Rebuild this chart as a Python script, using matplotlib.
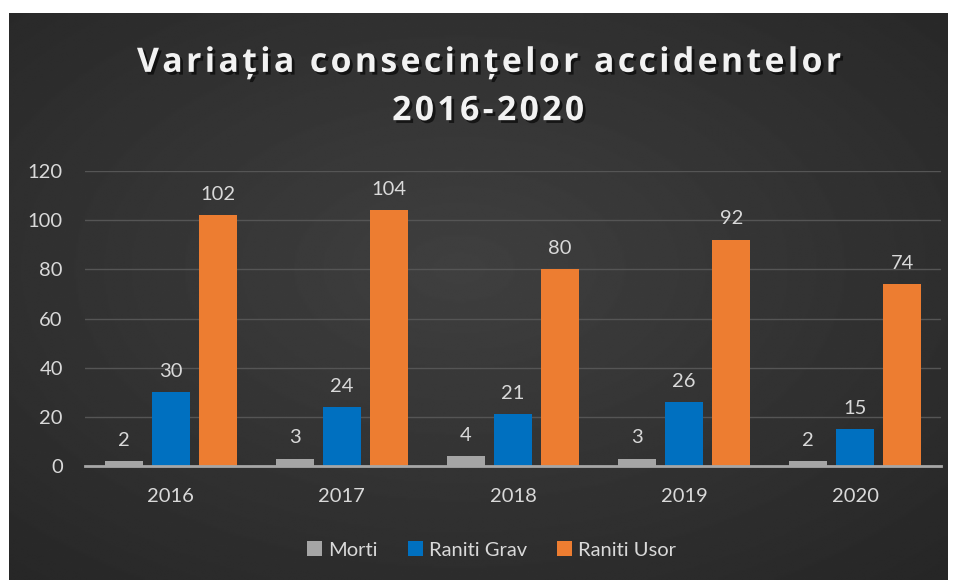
import numpy as np
import matplotlib.pyplot as plt
import matplotlib.patheffects as pe

years = ['2016', '2017', '2018', '2019', '2020']
morti = [2, 3, 4, 3, 2]
raniti_grav = [30, 24, 21, 26, 15]
raniti_usor = [102, 104, 80, 92, 74]

series = [('Morti', morti, '#A5A5A5'),
          ('Raniti Grav', raniti_grav, '#0070C0'),
          ('Raniti Usor', raniti_usor, '#ED7D31')]

txt = '#D9D9D9'
plt.rcParams['font.family'] = ['Lato', 'DejaVu Sans']

fig = plt.figure(figsize=(9.54, 5.80), dpi=100, facecolor='white')

# dark panel with a soft radial gradient
bg = fig.add_axes([9 / 954, 0, 939 / 954, 567 / 580], zorder=0)
yy, xx = np.mgrid[0:1:300j, 0:1:500j]
r = np.sqrt(((xx - 0.48) / 0.9) ** 2 + ((yy - 0.45) / 0.9) ** 2)
bg.imshow(0.25 - 0.12 * r, cmap='gray', vmin=0, vmax=1, aspect='auto',
          extent=[0, 1, 0, 1], interpolation='bilinear')
bg.set_axis_off()

ax = fig.add_axes([85 / 954, 114 / 580, 856 / 954, 295 / 580], zorder=1)
ax.patch.set_alpha(0)

x = np.arange(len(years))
step = 0.275
width = 0.222
for i, (name, vals, col) in enumerate(series):
    bars = ax.bar(x + (i - 1) * step, vals, width, color=col, label=name, zorder=3)
    for b, v in zip(bars, vals):
        ax.annotate(str(v), (b.get_x() + b.get_width() / 2, v),
                    xytext=(0, 9), textcoords='offset points',
                    ha='center', va='bottom', color=txt, fontsize=14.5)

ax.set_xlim(-0.5, len(years) - 0.5)
ax.set_ylim(0, 120)
ax.set_yticks(range(0, 121, 20))
ax.set_xticks(x)
ax.set_xticklabels(years)
ax.tick_params(axis='both', length=0, colors=txt, labelsize=14.5)
ax.tick_params(axis='x', pad=16)
ax.tick_params(axis='y', pad=16)
ax.grid(axis='y', color='#555555', linewidth=1, zorder=0)
for s in ['top', 'right', 'left']:
    ax.spines[s].set_visible(False)
ax.spines['bottom'].set_color('#A6A6A6')
ax.spines['bottom'].set_linewidth(2)
ax.spines['bottom'].set_zorder(4)

# title is letter-spaced with hair spaces
line1 = '\u200a'.join('Variația consecințelor accidentelor')
line2 = '\u200a'.join('2016-2020')
shadow = [pe.withSimplePatchShadow(offset=(2, -2), shadow_rgbFace='black', alpha=0.6)]
fig.text(0.512, 0.85, line1 + '\n' + line2,
         ha='center', va='center', color='#F2F2F2', fontsize=24.3,
         fontweight='bold', family=['Open Sans', 'DejaVu Sans'],
         linespacing=1.55, path_effects=shadow)

leg = ax.legend(loc='center', bbox_to_anchor=(0.475, -0.285), ncol=3,
                frameon=False, fontsize=14.5, labelcolor=txt,
                handlelength=0.75, handleheight=0.75, handletextpad=0.3,
                columnspacing=1.5)

fig.savefig('out.png', dpi=100, facecolor=fig.get_facecolor())
